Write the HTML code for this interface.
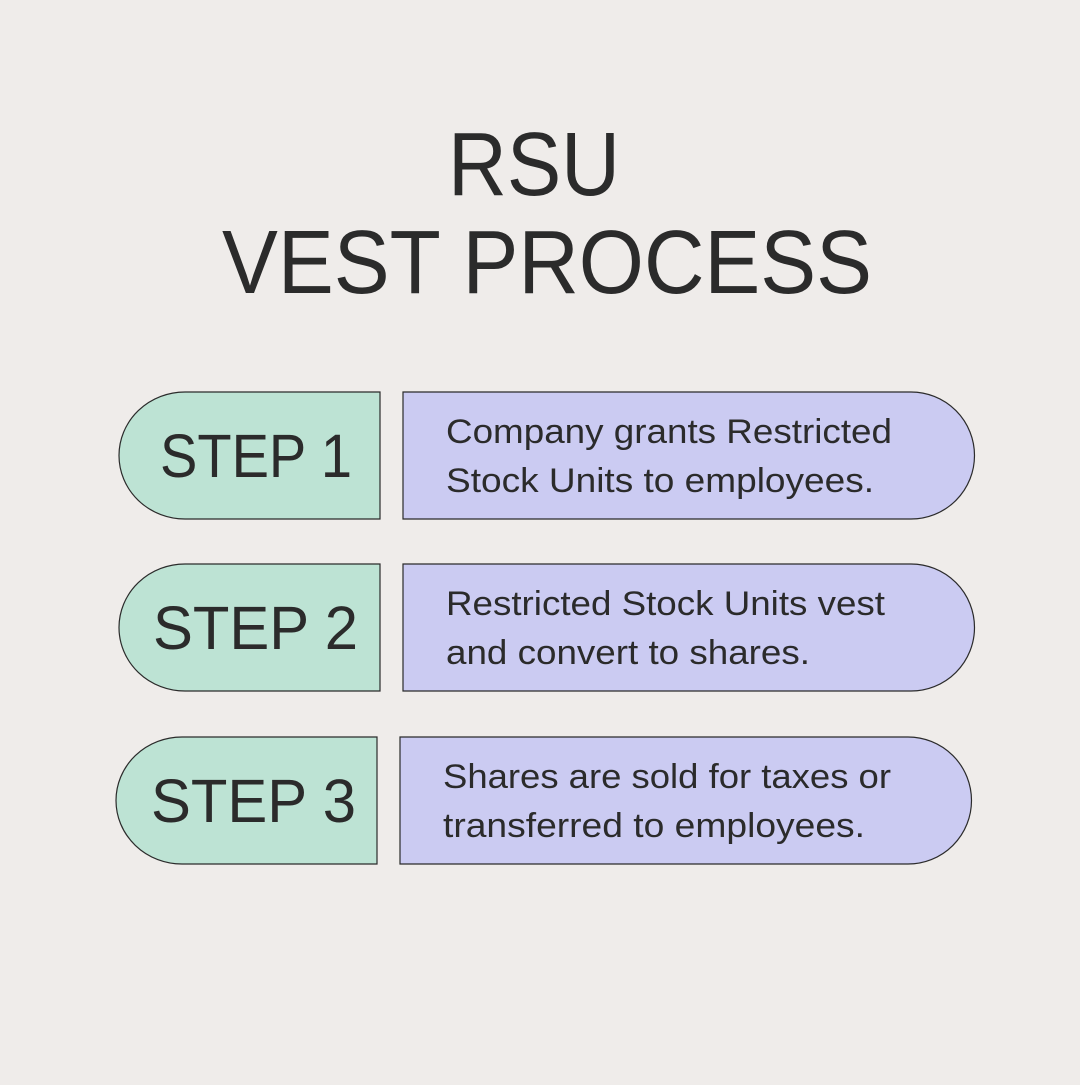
<!DOCTYPE html>
<html><head><style>html,body{margin:0;padding:0;background:#efecea;}</style></head>
<body>
<svg width="1080" height="1080" viewBox="0 0 1080 1080" xmlns="http://www.w3.org/2000/svg" font-family="Liberation Sans, sans-serif" fill="#2b2b2b">
<rect width="1080" height="1080" fill="#efecea"/>
<text x="534" y="195" font-size="90" text-anchor="middle" textLength="172" lengthAdjust="spacingAndGlyphs">RSU</text>
<text x="547" y="293" font-size="90" text-anchor="middle" textLength="650" lengthAdjust="spacingAndGlyphs">VEST PROCESS</text>
<g stroke="#2b2b2b" stroke-width="1.2">
<path d="M380,392 V519 H185 A66,63.5 0 0 1 185,392 Z" fill="#bde3d4"/>
<path d="M403,392 H911 A63.5,63.5 0 0 1 911,519 H403 Z" fill="#cbcbf2"/>
<path d="M380,564 V691 H185 A66,63.5 0 0 1 185,564 Z" fill="#bde3d4"/>
<path d="M403,564 H911 A63.5,63.5 0 0 1 911,691 H403 Z" fill="#cbcbf2"/>
<path d="M377,737 V864 H182 A66,63.5 0 0 1 182,737 Z" fill="#bde3d4"/>
<path d="M400,737 H908 A63.5,63.5 0 0 1 908,864 H400 Z" fill="#cbcbf2"/>
</g>
<g font-size="61">
<text x="160" y="477" textLength="192" lengthAdjust="spacingAndGlyphs">STEP 1</text>
<text x="153" y="649" textLength="205" lengthAdjust="spacingAndGlyphs">STEP 2</text>
<text x="151" y="822" textLength="205" lengthAdjust="spacingAndGlyphs">STEP 3</text>
</g>
<g font-size="34">
<text x="446" y="443" textLength="446" lengthAdjust="spacingAndGlyphs">Company grants Restricted</text>
<text x="446" y="492" textLength="428" lengthAdjust="spacingAndGlyphs">Stock Units to employees.</text>
<text x="446" y="615" textLength="439" lengthAdjust="spacingAndGlyphs">Restricted Stock Units vest</text>
<text x="446" y="664" textLength="364" lengthAdjust="spacingAndGlyphs">and convert to shares.</text>
<text x="443" y="788" textLength="448" lengthAdjust="spacingAndGlyphs">Shares are sold for taxes or</text>
<text x="443" y="837" textLength="422" lengthAdjust="spacingAndGlyphs">transferred to employees.</text>
</g>
</svg>
</body></html>
